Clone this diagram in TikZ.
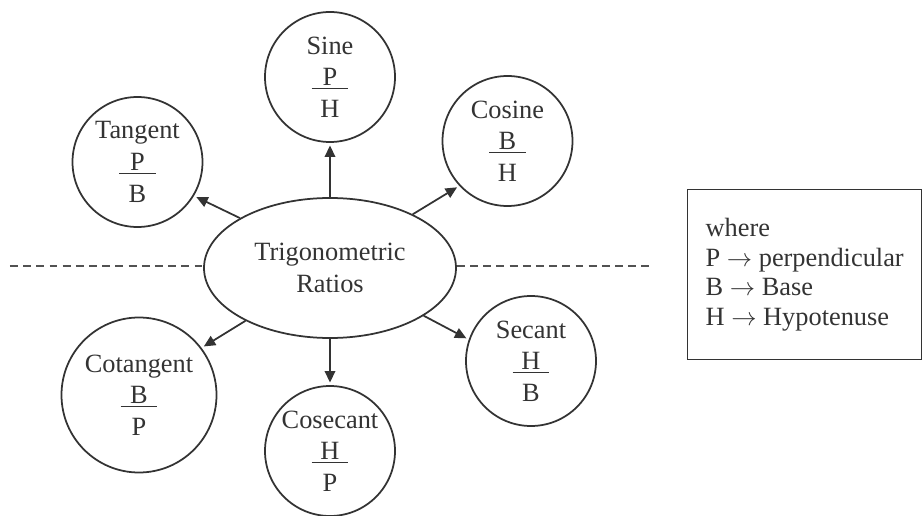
\documentclass[tikz,border=0pt]{standalone}
\usepackage{fontspec}
\setmainfont{Liberation Serif}
\usetikzlibrary{arrows.meta,shapes.geometric}
\definecolor{ink}{HTML}{333333}
% title, numerator, denominator
\newcommand{\ratio}[3]{#1\\\makebox[21pt]{#2}\llap{\rule[-2pt]{21pt}{0.8pt}}\\#3}

\begin{document}
\begin{tikzpicture}[
  ratio/.style={circle,draw=ink,line width=1pt,text=ink,align=center,
    minimum size=2.6cm,inner sep=0pt,font=\fontsize{15}{18}\selectfont},
  hub/.style={ellipse,draw=ink,line width=1pt,text=ink,align=center,
    minimum width=5.04cm,minimum height=2.8cm,inner sep=0pt,font=\fontsize{15}{18}\selectfont},
  link/.style={draw=ink,line width=1pt,-{Triangle[length=6.5pt,width=6pt]},shorten >=1.5pt},
  divider/.style={draw=ink!85,line width=1pt,dash pattern=on 4.5pt off 3pt},
  key/.style={draw=ink,line width=0.8pt,text=ink,align=left,anchor=north west,
    minimum width=4.68cm,minimum height=3.4cm,
    font=\fontsize{15}{17}\selectfont},
]
\useasboundingbox (0,0) rectangle (18.44,10.3);

\node[hub] (hub) at (6.6,4.94) {Trigonometric\\Ratios};

\node[ratio] (sin) at (6.6,8.76) {\ratio{Sine}{P}{H}};
\node[ratio] (cos) at (10.15,7.48) {\ratio{Cosine}{B}{H}};
\node[ratio] (tan) at (2.75,7.06) {\ratio{Tangent}{P}{B}};
\node[ratio,minimum size=3.1cm] (cot) at (2.78,2.40) {\ratio{Cotangent}{B}{P}};
\node[ratio] (csc) at (6.6,1.28) {\ratio{Cosecant}{H}{P}};
\node[ratio] (sec) at (10.62,3.08) {\ratio{Secant}{H}{B}};

\draw[link] (hub.90) -- (sin.270);
\draw[link] (hub.33) -- (cos.223);
\draw[link] (hub.151) -- (tan.329);
\draw[link] (hub.212) -- (cot.37);
\draw[link] (hub.270) -- (csc.90);
\draw[link] (hub.333) -- (sec.161);

% dashed divider
\coordinate (lft) at (0.2,4.98);
\coordinate (rgt) at (13.0,4.98);
\draw[divider] (lft) -- (lft -| hub.west);
\draw[divider] (rgt -| hub.east) -- (rgt);

\node[key] (key) at (13.74,6.52)
  {where\\P $\rightarrow$ perpendicular\\B $\rightarrow$ Base\\H $\rightarrow$ Hypotenuse};
\end{tikzpicture}
\end{document}
